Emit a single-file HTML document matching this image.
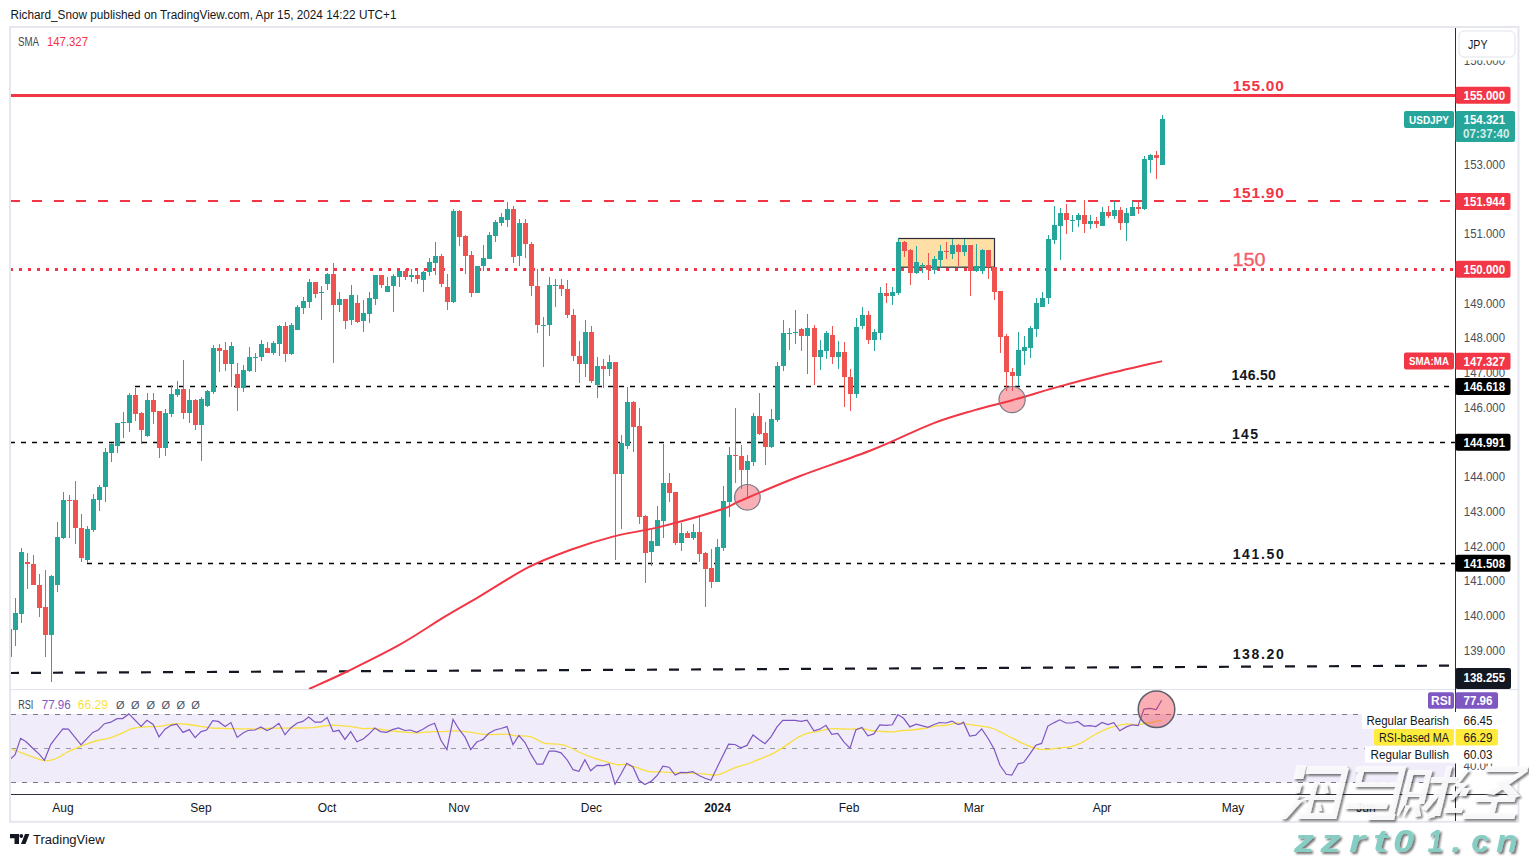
<!DOCTYPE html>
<html><head><meta charset="utf-8"><style>
html,body{margin:0;padding:0;background:#fff;width:1529px;height:857px;overflow:hidden;position:relative;font-family:"Liberation Sans",sans-serif}
</style></head><body>
<svg width="1529" height="857" viewBox="0 0 1529 857" style="position:absolute;left:0;top:0">
<defs><clipPath id="mainclip"><rect x="11" y="28" width="1444" height="661"/></clipPath><clipPath id="rsiclip"><rect x="11" y="690" width="1444" height="104"/></clipPath></defs>
<text x="10.5" y="19" font-size="12" fill="#131722" textLength="386" lengthAdjust="spacingAndGlyphs" font-family="Liberation Sans, sans-serif">Richard_Snow published on TradingView.com, Apr 15, 2024 14:22 UTC+1</text>
<rect x="10" y="27" width="1508.5" height="794.8" fill="#fff" stroke="#e6e7ee" stroke-width="2"/>
<g clip-path="url(#mainclip)">
<rect x="898.5" y="238.5" width="96" height="28.7" fill="#ffdfa6" stroke="#2a2e39" stroke-width="1.2"/>
<line x1="11" y1="95.5" x2="1455" y2="95.5" stroke="#f23645" stroke-width="3"/>
<line x1="10" y1="201" x2="1455" y2="201" stroke="#f23645" stroke-width="2" stroke-dasharray="10 12"/>
<line x1="10" y1="269.5" x2="1455" y2="269.5" stroke="#f23645" stroke-width="3" stroke-dasharray="3 6"/>
<line x1="135" y1="386.5" x2="1455" y2="386.5" stroke="#000" stroke-width="1.5" stroke-dasharray="5 6"/>
<line x1="10" y1="442.5" x2="1455" y2="442.5" stroke="#000" stroke-width="1.5" stroke-dasharray="5 6"/>
<line x1="87" y1="563.5" x2="1455" y2="563.5" stroke="#000" stroke-width="1.5" stroke-dasharray="5 6"/>
<line x1="9" y1="673" x2="1455" y2="665.6" stroke="#131722" stroke-width="2.2" stroke-dasharray="10 12"/>
<rect x="9" y="629" width="1" height="28" fill="#26a69a"/>
<rect x="7" y="629" width="5" height="28" fill="#26a69a"/>
<rect x="15" y="598" width="1" height="48" fill="#26a69a"/>
<rect x="13" y="613" width="5" height="17" fill="#26a69a"/>
<rect x="21" y="548" width="1" height="75" fill="#26a69a"/>
<rect x="19" y="552" width="5" height="62" fill="#26a69a"/>
<rect x="27" y="553" width="1" height="36" fill="#ef5350"/>
<rect x="25" y="562" width="5" height="2" fill="#ef5350"/>
<rect x="33" y="555" width="1" height="30" fill="#ef5350"/>
<rect x="31" y="564" width="5" height="21" fill="#ef5350"/>
<rect x="39" y="574" width="1" height="43" fill="#ef5350"/>
<rect x="37" y="585" width="5" height="23" fill="#ef5350"/>
<rect x="45" y="570" width="1" height="87" fill="#ef5350"/>
<rect x="43" y="607" width="5" height="28" fill="#ef5350"/>
<rect x="51" y="575" width="1" height="107" fill="#26a69a"/>
<rect x="49" y="576" width="5" height="59" fill="#26a69a"/>
<rect x="57" y="522" width="1" height="70" fill="#26a69a"/>
<rect x="55" y="537" width="5" height="48" fill="#26a69a"/>
<rect x="63" y="492" width="1" height="47" fill="#26a69a"/>
<rect x="61" y="500" width="5" height="38" fill="#26a69a"/>
<rect x="69" y="495" width="1" height="43" fill="#ef5350"/>
<rect x="67" y="500" width="5" height="1" fill="#ef5350"/>
<rect x="75" y="481" width="1" height="63" fill="#ef5350"/>
<rect x="73" y="500" width="5" height="28" fill="#ef5350"/>
<rect x="81" y="514" width="1" height="48" fill="#ef5350"/>
<rect x="79" y="528" width="5" height="30" fill="#ef5350"/>
<rect x="87" y="526" width="1" height="37" fill="#26a69a"/>
<rect x="85" y="529" width="5" height="31" fill="#26a69a"/>
<rect x="93" y="494" width="1" height="38" fill="#26a69a"/>
<rect x="91" y="499" width="5" height="31" fill="#26a69a"/>
<rect x="99" y="485" width="1" height="26" fill="#26a69a"/>
<rect x="97" y="487" width="5" height="13" fill="#26a69a"/>
<rect x="105" y="448" width="1" height="54" fill="#26a69a"/>
<rect x="103" y="452" width="5" height="35" fill="#26a69a"/>
<rect x="111" y="443" width="1" height="19" fill="#26a69a"/>
<rect x="109" y="444" width="5" height="9" fill="#26a69a"/>
<rect x="117" y="423" width="1" height="30" fill="#26a69a"/>
<rect x="115" y="423" width="5" height="23" fill="#26a69a"/>
<rect x="123" y="412" width="1" height="26" fill="#26a69a"/>
<rect x="121" y="422" width="5" height="1" fill="#26a69a"/>
<rect x="129" y="393" width="1" height="39" fill="#26a69a"/>
<rect x="127" y="395" width="5" height="28" fill="#26a69a"/>
<rect x="135" y="388" width="1" height="33" fill="#ef5350"/>
<rect x="133" y="395" width="5" height="19" fill="#ef5350"/>
<rect x="141" y="412" width="1" height="32" fill="#ef5350"/>
<rect x="139" y="413" width="5" height="17" fill="#ef5350"/>
<rect x="147" y="393" width="1" height="44" fill="#26a69a"/>
<rect x="145" y="400" width="5" height="36" fill="#26a69a"/>
<rect x="153" y="393" width="1" height="31" fill="#ef5350"/>
<rect x="151" y="400" width="5" height="12" fill="#ef5350"/>
<rect x="159" y="411" width="1" height="47" fill="#ef5350"/>
<rect x="157" y="411" width="5" height="37" fill="#ef5350"/>
<rect x="165" y="409" width="1" height="47" fill="#26a69a"/>
<rect x="163" y="413" width="5" height="35" fill="#26a69a"/>
<rect x="171" y="385" width="1" height="32" fill="#26a69a"/>
<rect x="169" y="394" width="5" height="20" fill="#26a69a"/>
<rect x="177" y="381" width="1" height="16" fill="#26a69a"/>
<rect x="175" y="389" width="5" height="6" fill="#26a69a"/>
<rect x="183" y="360" width="1" height="59" fill="#ef5350"/>
<rect x="181" y="389" width="5" height="24" fill="#ef5350"/>
<rect x="189" y="389" width="1" height="34" fill="#26a69a"/>
<rect x="187" y="400" width="5" height="13" fill="#26a69a"/>
<rect x="195" y="399" width="1" height="31" fill="#ef5350"/>
<rect x="193" y="400" width="5" height="25" fill="#ef5350"/>
<rect x="201" y="397" width="1" height="64" fill="#26a69a"/>
<rect x="199" y="399" width="5" height="26" fill="#26a69a"/>
<rect x="207" y="390" width="1" height="17" fill="#26a69a"/>
<rect x="205" y="391" width="5" height="15" fill="#26a69a"/>
<rect x="213" y="345" width="1" height="49" fill="#26a69a"/>
<rect x="211" y="348" width="5" height="44" fill="#26a69a"/>
<rect x="219" y="344" width="1" height="28" fill="#ef5350"/>
<rect x="217" y="348" width="5" height="3" fill="#ef5350"/>
<rect x="225" y="342" width="1" height="29" fill="#ef5350"/>
<rect x="223" y="350" width="5" height="14" fill="#ef5350"/>
<rect x="231" y="342" width="1" height="45" fill="#26a69a"/>
<rect x="229" y="346" width="5" height="18" fill="#26a69a"/>
<rect x="237" y="363" width="1" height="48" fill="#ef5350"/>
<rect x="235" y="374" width="5" height="14" fill="#ef5350"/>
<rect x="243" y="365" width="1" height="27" fill="#26a69a"/>
<rect x="241" y="370" width="5" height="18" fill="#26a69a"/>
<rect x="249" y="347" width="1" height="25" fill="#26a69a"/>
<rect x="247" y="357" width="5" height="14" fill="#26a69a"/>
<rect x="255" y="353" width="1" height="19" fill="#26a69a"/>
<rect x="253" y="357" width="5" height="1" fill="#26a69a"/>
<rect x="261" y="340" width="1" height="21" fill="#26a69a"/>
<rect x="259" y="344" width="5" height="13" fill="#26a69a"/>
<rect x="267" y="342" width="1" height="11" fill="#ef5350"/>
<rect x="265" y="348" width="5" height="5" fill="#ef5350"/>
<rect x="273" y="341" width="1" height="14" fill="#26a69a"/>
<rect x="271" y="343" width="5" height="10" fill="#26a69a"/>
<rect x="279" y="325" width="1" height="31" fill="#26a69a"/>
<rect x="277" y="326" width="5" height="18" fill="#26a69a"/>
<rect x="285" y="322" width="1" height="40" fill="#ef5350"/>
<rect x="283" y="326" width="5" height="28" fill="#ef5350"/>
<rect x="291" y="323" width="1" height="32" fill="#26a69a"/>
<rect x="289" y="325" width="5" height="29" fill="#26a69a"/>
<rect x="297" y="305" width="1" height="25" fill="#26a69a"/>
<rect x="295" y="307" width="5" height="23" fill="#26a69a"/>
<rect x="303" y="297" width="1" height="17" fill="#26a69a"/>
<rect x="301" y="301" width="5" height="7" fill="#26a69a"/>
<rect x="309" y="279" width="1" height="29" fill="#26a69a"/>
<rect x="307" y="282" width="5" height="20" fill="#26a69a"/>
<rect x="315" y="282" width="1" height="16" fill="#ef5350"/>
<rect x="313" y="282" width="5" height="12" fill="#ef5350"/>
<rect x="321" y="286" width="1" height="34" fill="#26a69a"/>
<rect x="319" y="292" width="5" height="1" fill="#26a69a"/>
<rect x="327" y="273" width="1" height="17" fill="#26a69a"/>
<rect x="325" y="274" width="5" height="10" fill="#26a69a"/>
<rect x="333" y="263" width="1" height="100" fill="#ef5350"/>
<rect x="331" y="274" width="5" height="31" fill="#ef5350"/>
<rect x="339" y="292" width="1" height="20" fill="#26a69a"/>
<rect x="337" y="299" width="5" height="6" fill="#26a69a"/>
<rect x="345" y="299" width="1" height="30" fill="#ef5350"/>
<rect x="343" y="299" width="5" height="22" fill="#ef5350"/>
<rect x="351" y="285" width="1" height="40" fill="#26a69a"/>
<rect x="349" y="295" width="5" height="25" fill="#26a69a"/>
<rect x="357" y="295" width="1" height="28" fill="#ef5350"/>
<rect x="355" y="303" width="5" height="19" fill="#ef5350"/>
<rect x="363" y="300" width="1" height="32" fill="#26a69a"/>
<rect x="361" y="313" width="5" height="8" fill="#26a69a"/>
<rect x="369" y="292" width="1" height="31" fill="#26a69a"/>
<rect x="367" y="298" width="5" height="16" fill="#26a69a"/>
<rect x="375" y="275" width="1" height="30" fill="#26a69a"/>
<rect x="373" y="275" width="5" height="24" fill="#26a69a"/>
<rect x="381" y="275" width="1" height="13" fill="#ef5350"/>
<rect x="379" y="275" width="5" height="10" fill="#ef5350"/>
<rect x="387" y="277" width="1" height="15" fill="#26a69a"/>
<rect x="385" y="286" width="5" height="6" fill="#26a69a"/>
<rect x="393" y="274" width="1" height="38" fill="#26a69a"/>
<rect x="391" y="276" width="5" height="10" fill="#26a69a"/>
<rect x="399" y="271" width="1" height="16" fill="#26a69a"/>
<rect x="397" y="271" width="5" height="6" fill="#26a69a"/>
<rect x="405" y="269" width="1" height="11" fill="#ef5350"/>
<rect x="403" y="271" width="5" height="6" fill="#ef5350"/>
<rect x="411" y="269" width="1" height="13" fill="#26a69a"/>
<rect x="409" y="275" width="5" height="2" fill="#26a69a"/>
<rect x="417" y="270" width="1" height="14" fill="#ef5350"/>
<rect x="415" y="275" width="5" height="4" fill="#ef5350"/>
<rect x="423" y="271" width="1" height="21" fill="#26a69a"/>
<rect x="421" y="272" width="5" height="8" fill="#26a69a"/>
<rect x="429" y="258" width="1" height="18" fill="#26a69a"/>
<rect x="427" y="262" width="5" height="10" fill="#26a69a"/>
<rect x="435" y="242" width="1" height="33" fill="#26a69a"/>
<rect x="433" y="256" width="5" height="7" fill="#26a69a"/>
<rect x="441" y="254" width="1" height="33" fill="#ef5350"/>
<rect x="439" y="256" width="5" height="28" fill="#ef5350"/>
<rect x="447" y="274" width="1" height="36" fill="#ef5350"/>
<rect x="445" y="287" width="5" height="15" fill="#ef5350"/>
<rect x="453" y="209" width="1" height="94" fill="#26a69a"/>
<rect x="451" y="211" width="5" height="91" fill="#26a69a"/>
<rect x="459" y="210" width="1" height="36" fill="#ef5350"/>
<rect x="457" y="211" width="5" height="26" fill="#ef5350"/>
<rect x="465" y="235" width="1" height="39" fill="#ef5350"/>
<rect x="463" y="236" width="5" height="20" fill="#ef5350"/>
<rect x="471" y="251" width="1" height="46" fill="#ef5350"/>
<rect x="469" y="255" width="5" height="38" fill="#ef5350"/>
<rect x="477" y="266" width="1" height="27" fill="#26a69a"/>
<rect x="475" y="266" width="5" height="27" fill="#26a69a"/>
<rect x="483" y="245" width="1" height="26" fill="#26a69a"/>
<rect x="481" y="258" width="5" height="8" fill="#26a69a"/>
<rect x="489" y="232" width="1" height="27" fill="#26a69a"/>
<rect x="487" y="235" width="5" height="24" fill="#26a69a"/>
<rect x="495" y="220" width="1" height="22" fill="#26a69a"/>
<rect x="493" y="222" width="5" height="14" fill="#26a69a"/>
<rect x="501" y="213" width="1" height="13" fill="#26a69a"/>
<rect x="499" y="217" width="5" height="6" fill="#26a69a"/>
<rect x="507" y="202" width="1" height="25" fill="#26a69a"/>
<rect x="505" y="209" width="5" height="11" fill="#26a69a"/>
<rect x="513" y="206" width="1" height="57" fill="#ef5350"/>
<rect x="511" y="209" width="5" height="48" fill="#ef5350"/>
<rect x="519" y="219" width="1" height="47" fill="#26a69a"/>
<rect x="517" y="223" width="5" height="33" fill="#26a69a"/>
<rect x="525" y="219" width="1" height="39" fill="#ef5350"/>
<rect x="523" y="223" width="5" height="21" fill="#ef5350"/>
<rect x="531" y="242" width="1" height="54" fill="#ef5350"/>
<rect x="529" y="244" width="5" height="42" fill="#ef5350"/>
<rect x="537" y="269" width="1" height="64" fill="#ef5350"/>
<rect x="535" y="286" width="5" height="39" fill="#ef5350"/>
<rect x="543" y="317" width="1" height="50" fill="#26a69a"/>
<rect x="541" y="325" width="5" height="1" fill="#26a69a"/>
<rect x="549" y="277" width="1" height="59" fill="#26a69a"/>
<rect x="547" y="285" width="5" height="40" fill="#26a69a"/>
<rect x="555" y="279" width="1" height="28" fill="#26a69a"/>
<rect x="553" y="285" width="5" height="1" fill="#26a69a"/>
<rect x="561" y="279" width="1" height="17" fill="#ef5350"/>
<rect x="559" y="285" width="5" height="4" fill="#ef5350"/>
<rect x="567" y="280" width="1" height="38" fill="#ef5350"/>
<rect x="565" y="289" width="5" height="26" fill="#ef5350"/>
<rect x="573" y="309" width="1" height="52" fill="#ef5350"/>
<rect x="571" y="315" width="5" height="41" fill="#ef5350"/>
<rect x="579" y="341" width="1" height="42" fill="#ef5350"/>
<rect x="577" y="356" width="5" height="8" fill="#ef5350"/>
<rect x="585" y="320" width="1" height="57" fill="#26a69a"/>
<rect x="583" y="332" width="5" height="32" fill="#26a69a"/>
<rect x="591" y="326" width="1" height="57" fill="#ef5350"/>
<rect x="589" y="332" width="5" height="49" fill="#ef5350"/>
<rect x="597" y="357" width="1" height="41" fill="#26a69a"/>
<rect x="595" y="366" width="5" height="19" fill="#26a69a"/>
<rect x="603" y="359" width="1" height="29" fill="#ef5350"/>
<rect x="601" y="366" width="5" height="3" fill="#ef5350"/>
<rect x="609" y="355" width="1" height="21" fill="#26a69a"/>
<rect x="607" y="362" width="5" height="7" fill="#26a69a"/>
<rect x="615" y="362" width="1" height="198" fill="#ef5350"/>
<rect x="613" y="362" width="5" height="112" fill="#ef5350"/>
<rect x="621" y="435" width="1" height="94" fill="#26a69a"/>
<rect x="619" y="443" width="5" height="31" fill="#26a69a"/>
<rect x="627" y="387" width="1" height="62" fill="#26a69a"/>
<rect x="625" y="402" width="5" height="44" fill="#26a69a"/>
<rect x="633" y="401" width="1" height="51" fill="#ef5350"/>
<rect x="631" y="402" width="5" height="25" fill="#ef5350"/>
<rect x="639" y="408" width="1" height="116" fill="#ef5350"/>
<rect x="637" y="426" width="5" height="91" fill="#ef5350"/>
<rect x="645" y="515" width="1" height="68" fill="#ef5350"/>
<rect x="643" y="516" width="5" height="37" fill="#ef5350"/>
<rect x="651" y="530" width="1" height="36" fill="#26a69a"/>
<rect x="649" y="541" width="5" height="11" fill="#26a69a"/>
<rect x="657" y="506" width="1" height="40" fill="#26a69a"/>
<rect x="655" y="520" width="5" height="26" fill="#26a69a"/>
<rect x="663" y="444" width="1" height="94" fill="#26a69a"/>
<rect x="661" y="483" width="5" height="38" fill="#26a69a"/>
<rect x="669" y="473" width="1" height="29" fill="#ef5350"/>
<rect x="667" y="483" width="5" height="10" fill="#ef5350"/>
<rect x="675" y="492" width="1" height="53" fill="#ef5350"/>
<rect x="673" y="492" width="5" height="51" fill="#ef5350"/>
<rect x="681" y="523" width="1" height="28" fill="#26a69a"/>
<rect x="679" y="533" width="5" height="10" fill="#26a69a"/>
<rect x="687" y="531" width="1" height="7" fill="#ef5350"/>
<rect x="685" y="533" width="5" height="5" fill="#ef5350"/>
<rect x="693" y="524" width="1" height="16" fill="#26a69a"/>
<rect x="691" y="532" width="5" height="6" fill="#26a69a"/>
<rect x="699" y="517" width="1" height="45" fill="#ef5350"/>
<rect x="697" y="532" width="5" height="22" fill="#ef5350"/>
<rect x="705" y="552" width="1" height="55" fill="#ef5350"/>
<rect x="703" y="553" width="5" height="16" fill="#ef5350"/>
<rect x="711" y="549" width="1" height="39" fill="#ef5350"/>
<rect x="709" y="568" width="5" height="14" fill="#ef5350"/>
<rect x="717" y="539" width="1" height="43" fill="#26a69a"/>
<rect x="715" y="547" width="5" height="35" fill="#26a69a"/>
<rect x="723" y="486" width="1" height="65" fill="#26a69a"/>
<rect x="721" y="501" width="5" height="47" fill="#26a69a"/>
<rect x="729" y="447" width="1" height="70" fill="#26a69a"/>
<rect x="727" y="455" width="5" height="47" fill="#26a69a"/>
<rect x="735" y="408" width="1" height="75" fill="#ef5350"/>
<rect x="733" y="455" width="5" height="1" fill="#ef5350"/>
<rect x="741" y="445" width="1" height="44" fill="#ef5350"/>
<rect x="739" y="456" width="5" height="14" fill="#ef5350"/>
<rect x="747" y="455" width="1" height="42" fill="#26a69a"/>
<rect x="745" y="461" width="5" height="9" fill="#26a69a"/>
<rect x="753" y="413" width="1" height="53" fill="#26a69a"/>
<rect x="751" y="416" width="5" height="46" fill="#26a69a"/>
<rect x="759" y="393" width="1" height="42" fill="#ef5350"/>
<rect x="757" y="416" width="5" height="18" fill="#ef5350"/>
<rect x="765" y="422" width="1" height="43" fill="#ef5350"/>
<rect x="763" y="433" width="5" height="14" fill="#ef5350"/>
<rect x="771" y="409" width="1" height="39" fill="#26a69a"/>
<rect x="769" y="419" width="5" height="28" fill="#26a69a"/>
<rect x="777" y="362" width="1" height="60" fill="#26a69a"/>
<rect x="775" y="366" width="5" height="54" fill="#26a69a"/>
<rect x="783" y="320" width="1" height="51" fill="#26a69a"/>
<rect x="781" y="333" width="5" height="33" fill="#26a69a"/>
<rect x="789" y="328" width="1" height="22" fill="#26a69a"/>
<rect x="787" y="333" width="5" height="1" fill="#26a69a"/>
<rect x="795" y="310" width="1" height="34" fill="#26a69a"/>
<rect x="793" y="332" width="5" height="1" fill="#26a69a"/>
<rect x="801" y="328" width="1" height="23" fill="#ef5350"/>
<rect x="799" y="329" width="5" height="7" fill="#ef5350"/>
<rect x="807" y="314" width="1" height="60" fill="#26a69a"/>
<rect x="805" y="328" width="5" height="8" fill="#26a69a"/>
<rect x="814" y="325" width="1" height="60" fill="#ef5350"/>
<rect x="812" y="328" width="5" height="29" fill="#ef5350"/>
<rect x="820" y="340" width="1" height="30" fill="#26a69a"/>
<rect x="818" y="350" width="5" height="7" fill="#26a69a"/>
<rect x="826" y="331" width="1" height="28" fill="#26a69a"/>
<rect x="824" y="333" width="5" height="18" fill="#26a69a"/>
<rect x="832" y="326" width="1" height="38" fill="#ef5350"/>
<rect x="830" y="335" width="5" height="22" fill="#ef5350"/>
<rect x="838" y="341" width="1" height="28" fill="#26a69a"/>
<rect x="836" y="352" width="5" height="5" fill="#26a69a"/>
<rect x="844" y="342" width="1" height="65" fill="#ef5350"/>
<rect x="842" y="352" width="5" height="25" fill="#ef5350"/>
<rect x="850" y="369" width="1" height="42" fill="#ef5350"/>
<rect x="848" y="377" width="5" height="17" fill="#ef5350"/>
<rect x="856" y="318" width="1" height="80" fill="#26a69a"/>
<rect x="854" y="327" width="5" height="67" fill="#26a69a"/>
<rect x="862" y="307" width="1" height="22" fill="#26a69a"/>
<rect x="860" y="315" width="5" height="11" fill="#26a69a"/>
<rect x="868" y="311" width="1" height="33" fill="#ef5350"/>
<rect x="866" y="315" width="5" height="25" fill="#ef5350"/>
<rect x="874" y="329" width="1" height="22" fill="#26a69a"/>
<rect x="872" y="332" width="5" height="8" fill="#26a69a"/>
<rect x="880" y="287" width="1" height="53" fill="#26a69a"/>
<rect x="878" y="293" width="5" height="40" fill="#26a69a"/>
<rect x="886" y="283" width="1" height="20" fill="#ef5350"/>
<rect x="884" y="293" width="5" height="3" fill="#ef5350"/>
<rect x="892" y="287" width="1" height="18" fill="#26a69a"/>
<rect x="890" y="292" width="5" height="4" fill="#26a69a"/>
<rect x="898" y="238" width="1" height="57" fill="#26a69a"/>
<rect x="896" y="242" width="5" height="51" fill="#26a69a"/>
<rect x="904" y="241" width="1" height="16" fill="#ef5350"/>
<rect x="902" y="242" width="5" height="9" fill="#ef5350"/>
<rect x="910" y="249" width="1" height="36" fill="#ef5350"/>
<rect x="908" y="250" width="5" height="23" fill="#ef5350"/>
<rect x="916" y="246" width="1" height="28" fill="#26a69a"/>
<rect x="914" y="262" width="5" height="11" fill="#26a69a"/>
<rect x="922" y="263" width="1" height="10" fill="#26a69a"/>
<rect x="920" y="265" width="5" height="1" fill="#26a69a"/>
<rect x="928" y="253" width="1" height="27" fill="#ef5350"/>
<rect x="926" y="265" width="5" height="5" fill="#ef5350"/>
<rect x="934" y="256" width="1" height="18" fill="#26a69a"/>
<rect x="932" y="259" width="5" height="11" fill="#26a69a"/>
<rect x="940" y="245" width="1" height="23" fill="#26a69a"/>
<rect x="938" y="251" width="5" height="9" fill="#26a69a"/>
<rect x="946" y="242" width="1" height="17" fill="#ef5350"/>
<rect x="944" y="251" width="5" height="1" fill="#ef5350"/>
<rect x="952" y="239" width="1" height="20" fill="#26a69a"/>
<rect x="950" y="245" width="5" height="9" fill="#26a69a"/>
<rect x="958" y="244" width="1" height="22" fill="#ef5350"/>
<rect x="956" y="245" width="5" height="7" fill="#ef5350"/>
<rect x="964" y="239" width="1" height="17" fill="#26a69a"/>
<rect x="962" y="245" width="5" height="7" fill="#26a69a"/>
<rect x="970" y="245" width="1" height="51" fill="#ef5350"/>
<rect x="968" y="245" width="5" height="26" fill="#ef5350"/>
<rect x="976" y="244" width="1" height="28" fill="#26a69a"/>
<rect x="974" y="266" width="5" height="5" fill="#26a69a"/>
<rect x="982" y="249" width="1" height="25" fill="#26a69a"/>
<rect x="980" y="250" width="5" height="21" fill="#26a69a"/>
<rect x="988" y="250" width="1" height="29" fill="#ef5350"/>
<rect x="986" y="250" width="5" height="17" fill="#ef5350"/>
<rect x="994" y="267" width="1" height="33" fill="#ef5350"/>
<rect x="992" y="267" width="5" height="25" fill="#ef5350"/>
<rect x="1000" y="291" width="1" height="62" fill="#ef5350"/>
<rect x="998" y="291" width="5" height="46" fill="#ef5350"/>
<rect x="1006" y="334" width="1" height="57" fill="#ef5350"/>
<rect x="1004" y="336" width="5" height="36" fill="#ef5350"/>
<rect x="1012" y="368" width="1" height="23" fill="#ef5350"/>
<rect x="1010" y="372" width="5" height="4" fill="#ef5350"/>
<rect x="1018" y="332" width="1" height="54" fill="#26a69a"/>
<rect x="1016" y="350" width="5" height="26" fill="#26a69a"/>
<rect x="1024" y="336" width="1" height="29" fill="#26a69a"/>
<rect x="1022" y="347" width="5" height="4" fill="#26a69a"/>
<rect x="1030" y="326" width="1" height="32" fill="#26a69a"/>
<rect x="1028" y="328" width="5" height="20" fill="#26a69a"/>
<rect x="1036" y="298" width="1" height="39" fill="#26a69a"/>
<rect x="1034" y="303" width="5" height="26" fill="#26a69a"/>
<rect x="1042" y="292" width="1" height="15" fill="#26a69a"/>
<rect x="1040" y="298" width="5" height="9" fill="#26a69a"/>
<rect x="1048" y="235" width="1" height="69" fill="#26a69a"/>
<rect x="1046" y="239" width="5" height="59" fill="#26a69a"/>
<rect x="1054" y="206" width="1" height="38" fill="#26a69a"/>
<rect x="1052" y="225" width="5" height="15" fill="#26a69a"/>
<rect x="1060" y="208" width="1" height="52" fill="#26a69a"/>
<rect x="1058" y="213" width="5" height="13" fill="#26a69a"/>
<rect x="1066" y="204" width="1" height="30" fill="#ef5350"/>
<rect x="1064" y="213" width="5" height="7" fill="#ef5350"/>
<rect x="1072" y="215" width="1" height="17" fill="#26a69a"/>
<rect x="1070" y="220" width="5" height="1" fill="#26a69a"/>
<rect x="1078" y="213" width="1" height="14" fill="#26a69a"/>
<rect x="1076" y="215" width="5" height="5" fill="#26a69a"/>
<rect x="1084" y="200" width="1" height="33" fill="#ef5350"/>
<rect x="1082" y="215" width="5" height="9" fill="#ef5350"/>
<rect x="1090" y="215" width="1" height="14" fill="#26a69a"/>
<rect x="1088" y="221" width="5" height="3" fill="#26a69a"/>
<rect x="1096" y="217" width="1" height="11" fill="#ef5350"/>
<rect x="1094" y="221" width="5" height="3" fill="#ef5350"/>
<rect x="1102" y="207" width="1" height="19" fill="#26a69a"/>
<rect x="1100" y="212" width="5" height="14" fill="#26a69a"/>
<rect x="1108" y="206" width="1" height="12" fill="#ef5350"/>
<rect x="1106" y="212" width="5" height="4" fill="#ef5350"/>
<rect x="1114" y="201" width="1" height="18" fill="#26a69a"/>
<rect x="1112" y="210" width="5" height="6" fill="#26a69a"/>
<rect x="1120" y="207" width="1" height="23" fill="#ef5350"/>
<rect x="1118" y="210" width="5" height="13" fill="#ef5350"/>
<rect x="1126" y="208" width="1" height="33" fill="#26a69a"/>
<rect x="1124" y="213" width="5" height="10" fill="#26a69a"/>
<rect x="1132" y="201" width="1" height="15" fill="#26a69a"/>
<rect x="1130" y="207" width="5" height="9" fill="#26a69a"/>
<rect x="1138" y="202" width="1" height="12" fill="#ef5350"/>
<rect x="1136" y="207" width="5" height="2" fill="#ef5350"/>
<rect x="1144" y="156" width="1" height="54" fill="#26a69a"/>
<rect x="1142" y="159" width="5" height="50" fill="#26a69a"/>
<rect x="1150" y="154" width="1" height="19" fill="#26a69a"/>
<rect x="1148" y="155" width="5" height="5" fill="#26a69a"/>
<rect x="1156" y="151" width="1" height="28" fill="#ef5350"/>
<rect x="1154" y="155" width="5" height="3" fill="#ef5350"/>
<rect x="1162" y="115" width="1" height="50" fill="#26a69a"/>
<rect x="1160" y="119" width="5" height="46" fill="#26a69a"/>
<path fill="none" stroke="#f23645" stroke-width="2" d="M309.0,689.0 C315.5,686.0 333.1,678.4 348.1,671.0 C363.2,663.6 383.2,653.9 399.3,644.9 C415.4,635.9 430.9,625.1 444.4,616.9 C457.9,608.7 466.5,604.1 480.5,595.8 C494.5,587.5 513.6,574.9 528.6,567.2 C543.6,559.5 556.8,554.9 570.8,549.8 C584.8,544.7 597.9,540.5 612.9,536.6 C627.9,532.7 643.0,531.1 661.0,526.6 C679.0,522.1 708.0,513.8 721.2,509.5 C734.4,505.2 726.8,506.6 740.0,501.0 C753.2,495.4 778.1,484.5 800.2,476.0 C822.3,467.5 850.4,458.5 872.4,449.8 C894.4,441.1 915.5,430.2 932.5,423.6 C949.5,417.0 961.4,414.0 974.7,410.1 C988.0,406.2 998.3,404.1 1012.3,400.2 C1026.3,396.3 1044.1,390.7 1058.9,386.6 C1073.7,382.5 1083.8,379.8 1101.0,375.5 C1118.2,371.2 1151.9,363.5 1162.1,361.1"/>
<circle cx="747.4" cy="497.3" r="12.8" fill="rgba(242,54,69,0.4)" stroke="#787b86" stroke-width="1.2"/>
<circle cx="1012.1" cy="399.6" r="13.1" fill="rgba(242,54,69,0.4)" stroke="#787b86" stroke-width="1.2"/>
<text x="1232.7" y="91" font-size="15.4" font-weight="bold" fill="#f23645" textLength="51" lengthAdjust="spacing" font-family="Liberation Sans, sans-serif">155.00</text>
<text x="1232.7" y="197.8" font-size="15.4" font-weight="bold" fill="#f23645" textLength="51" lengthAdjust="spacing" font-family="Liberation Sans, sans-serif">151.90</text>
<text x="1232.5" y="266" font-size="19" fill="#f45c68" stroke="#f45c68" stroke-width="0.35" textLength="33" lengthAdjust="spacingAndGlyphs" font-family="Liberation Sans, sans-serif">150</text>
<text x="1231.5" y="380.3" font-size="14" font-weight="bold" fill="#131722" textLength="44.3" lengthAdjust="spacing" font-family="Liberation Sans, sans-serif">146.50</text>
<text x="1232" y="439" font-size="14" font-weight="bold" fill="#131722" font-family="Liberation Sans, sans-serif" textLength="26" lengthAdjust="spacing">145</text>
<text x="1232.7" y="559" font-size="14" font-weight="bold" fill="#131722" textLength="51" lengthAdjust="spacing" font-family="Liberation Sans, sans-serif">141.50</text>
<text x="1232.7" y="659" font-size="14" font-weight="bold" fill="#131722" textLength="51" lengthAdjust="spacing" font-family="Liberation Sans, sans-serif">138.20</text>
<text x="18" y="46" font-size="12" fill="#434651" textLength="21" lengthAdjust="spacingAndGlyphs" font-family="Liberation Sans, sans-serif">SMA</text>
<text x="47" y="46" font-size="12" fill="#f23645" textLength="41" lengthAdjust="spacingAndGlyphs" font-family="Liberation Sans, sans-serif">147.327</text>
</g>
<line x1="11" y1="689.5" x2="1518" y2="689.5" stroke="#e0e3eb" stroke-width="1"/>
<g clip-path="url(#rsiclip)">
<rect x="11" y="714" width="1444" height="68.5" fill="#f0ecf9"/>
<line x1="11" y1="714.5" x2="1455" y2="714.5" stroke="#787b86" stroke-width="1" stroke-dasharray="5 6"/>
<line x1="11" y1="748.5" x2="1455" y2="748.5" stroke="#9598a1" stroke-width="1" stroke-dasharray="5 6"/>
<line x1="11" y1="782.5" x2="1455" y2="782.5" stroke="#787b86" stroke-width="1" stroke-dasharray="5 6"/>
<path fill="none" stroke="#f9df3f" stroke-width="1.3" d="M10.4,748.4 C12.6,749.3 19.4,751.9 23.7,753.6 C28.0,755.2 32.8,757.1 36.3,758.3 C39.7,759.5 41.8,760.4 44.4,760.6 C47.0,760.9 49.6,760.4 51.9,759.8 C54.3,759.3 55.6,758.8 58.2,757.5 C60.8,756.2 64.5,753.6 67.6,752.0 C70.8,750.4 73.9,749.1 77.1,747.8 C80.2,746.5 83.1,745.4 86.5,744.2 C89.9,742.9 93.5,741.6 97.5,740.5 C101.4,739.5 106.1,739.0 110.0,737.9 C113.9,736.7 117.6,735.1 121.0,733.6 C124.4,732.2 127.6,730.3 130.4,729.2 C133.3,728.2 135.1,727.8 138.3,727.4 C141.4,726.9 145.9,726.7 149.3,726.6 C152.7,726.4 155.5,726.7 158.7,726.4 C161.8,726.1 165.2,725.3 168.1,724.8 C171.0,724.4 172.5,723.8 175.9,723.7 C179.3,723.7 184.3,724.1 188.5,724.5 C192.7,725.0 197.1,725.8 201.1,726.4 C205.0,727.0 207.6,727.6 212.0,728.0 C216.5,728.3 223.6,728.3 227.7,728.5 C231.9,728.6 233.8,728.9 237.2,728.9 C240.5,729.0 244.9,728.7 248.0,728.8 C251.1,728.8 251.8,729.3 255.7,729.2 C259.6,729.1 266.2,728.3 271.4,728.1 C276.6,728.0 281.9,728.2 287.1,728.1 C292.3,728.1 298.1,728.1 302.8,728.0 C307.5,727.9 311.2,727.8 315.3,727.4 C319.5,726.9 324.2,725.8 327.9,725.5 C331.6,725.1 333.7,725.2 337.3,725.3 C341.0,725.5 345.7,725.9 349.9,726.4 C354.1,726.9 358.5,728.1 362.4,728.5 C366.4,728.8 369.0,728.1 373.4,728.5 C377.9,728.8 383.9,729.9 389.1,730.5 C394.3,731.1 400.1,731.7 404.8,732.1 C409.5,732.5 412.7,732.9 417.4,732.9 C422.1,732.8 428.6,731.8 433.1,731.6 C437.5,731.4 440.4,731.7 444.0,731.6 C447.7,731.5 451.4,730.8 455.0,730.8 C458.7,730.8 461.9,731.1 466.0,731.6 C470.2,732.1 476.4,733.4 480.0,733.9 C483.6,734.5 485.2,734.7 487.8,734.7 C490.5,734.8 492.3,734.5 495.7,734.4 C499.1,734.3 504.9,734.0 508.3,734.3 C511.7,734.5 512.4,735.4 516.1,735.8 C519.8,736.2 525.8,735.5 530.2,736.6 C534.7,737.7 539.6,741.4 542.8,742.6 C545.9,743.8 546.4,743.4 549.1,743.7 C551.7,743.9 555.3,743.7 558.5,744.2 C561.6,744.6 564.5,745.2 567.9,746.5 C571.3,747.8 575.2,750.3 578.9,752.0 C582.5,753.7 585.9,755.3 589.9,756.7 C593.8,758.1 598.0,759.3 602.4,760.6 C606.9,761.9 612.6,763.9 616.6,764.6 C620.5,765.2 622.6,764.0 626.0,764.6 C629.4,765.1 633.0,766.5 637.0,767.7 C640.9,768.9 645.3,770.9 649.5,771.6 C653.7,772.3 657.9,771.7 662.1,771.9 C666.3,772.1 670.4,772.7 674.6,772.9 C678.8,773.1 683.0,773.1 687.2,773.2 C691.4,773.3 696.3,773.5 699.7,773.7 C703.1,773.8 705.0,774.0 707.6,774.3 C710.2,774.5 713.4,775.2 715.4,775.2 C717.5,775.2 717.9,775.0 720.0,774.3 C722.1,773.6 725.2,772.0 727.8,770.8 C730.5,769.7 733.1,768.3 735.7,767.4 C738.3,766.4 740.9,765.8 743.5,765.0 C746.2,764.2 748.5,763.6 751.4,762.5 C754.3,761.4 757.7,759.9 760.8,758.6 C763.9,757.3 767.1,756.3 770.2,754.8 C773.4,753.3 776.5,751.6 779.6,749.6 C782.8,747.7 785.9,745.5 789.1,743.4 C792.2,741.3 795.3,738.8 798.5,737.1 C801.6,735.4 804.8,734.1 807.9,733.2 C811.0,732.2 813.7,732.3 817.3,731.6 C821.0,730.9 826.2,729.4 829.9,728.9 C833.5,728.5 835.9,728.7 839.3,728.8 C842.7,728.8 846.6,729.3 850.3,729.2 C853.9,729.2 857.9,728.2 861.3,728.5 C864.7,728.7 867.5,730.0 870.7,730.5 C873.8,731.0 876.4,731.0 880.1,731.3 C883.8,731.5 889.0,732.0 892.7,731.9 C896.3,731.8 898.9,730.8 902.1,730.5 C905.2,730.2 907.8,730.4 911.5,730.0 C915.2,729.7 919.9,729.2 924.0,728.5 C928.2,727.7 932.9,726.3 936.6,725.8 C940.3,725.3 942.9,725.7 946.0,725.3 C949.2,724.9 953.1,723.7 955.4,723.4 C957.8,723.1 956.6,723.1 960.0,723.4 C963.4,723.7 970.2,724.5 975.7,725.3 C981.2,726.2 987.7,726.8 993.0,728.5 C998.2,730.2 1002.1,733.0 1007.1,735.5 C1012.1,738.0 1018.1,741.2 1022.8,743.4 C1027.5,745.5 1031.4,747.3 1035.3,748.4 C1039.3,749.4 1042.7,749.7 1046.3,749.6 C1050.0,749.6 1053.4,748.5 1057.3,748.1 C1061.2,747.6 1065.9,747.7 1069.9,746.8 C1073.8,746.0 1076.9,744.9 1080.9,743.1 C1084.8,741.2 1089.2,737.8 1093.4,735.5 C1097.6,733.2 1102.0,730.9 1106.0,729.2 C1109.9,727.6 1113.6,726.6 1117.0,725.8 C1120.4,725.0 1123.0,724.4 1126.4,724.2 C1129.8,724.0 1133.7,724.7 1137.4,724.5 C1141.0,724.3 1144.3,723.7 1148.4,723.0 C1152.4,722.2 1159.5,720.6 1161.7,720.1"/>
<polyline fill="none" stroke="#7e57c2" stroke-width="1.2" points="10.4,759.1 15.1,754.7 20.6,738.3 26.1,741.8 32.3,747.8 39.4,754.4 44.4,760.3 50.7,744.6 55.1,738.7 62.9,728.9 68.4,729.2 81.0,744.9 92.8,732.4 98.3,730.0 104.5,723.7 110.8,722.2 117.1,718.7 122.6,718.6 128.9,713.9 141.1,726.4 146.9,720.3 153.2,724.5 159.0,736.8 165.0,729.2 171.2,725.3 176.7,724.2 183.0,732.4 189.3,729.6 195.1,737.6 201.1,731.6 206.6,730.0 212.8,720.6 218.3,721.4 225.1,726.4 230.9,722.6 237.2,737.4 243.4,732.7 248.0,730.5 254.9,730.0 260.9,726.9 267.0,730.5 273.0,727.7 278.9,723.3 285.0,734.7 291.0,727.7 297.3,723.0 302.8,721.4 308.7,717.0 315.0,722.2 321.1,722.2 327.1,717.5 333.1,731.6 338.9,730.3 344.9,739.4 350.7,731.6 356.9,741.8 363.2,739.0 368.7,734.3 374.7,728.0 380.5,731.6 386.8,732.4 392.3,729.6 398.5,728.0 404.8,730.5 410.3,730.0 416.6,732.4 422.9,729.2 428.4,725.8 434.6,723.3 440.9,740.2 446.9,749.6 453.0,719.4 459.0,729.2 465.2,737.4 470.7,749.6 477.0,741.8 480.0,740.7 483.1,739.4 488.6,733.6 494.9,730.0 500.9,728.5 507.0,726.6 513.0,744.6 518.9,735.5 525.0,742.6 531.0,754.4 537.0,764.2 542.8,764.1 549.1,751.2 555.3,751.2 561.1,752.8 567.1,759.8 573.1,769.7 578.9,771.3 584.9,759.8 590.7,770.8 596.9,765.3 603.2,765.7 609.2,764.1 615.0,784.2 621.0,774.0 626.8,763.3 633.0,766.9 639.0,780.3 644.8,784.6 651.1,781.4 657.4,775.2 662.9,766.1 669.1,767.2 675.1,775.1 680.9,772.4 686.9,772.7 692.7,771.6 699.0,775.5 705.2,778.2 711.0,780.3 720.0,761.4 728.6,744.2 734.9,744.5 740.9,747.8 747.0,745.4 753.0,735.0 758.9,739.4 765.0,743.7 771.0,736.8 777.0,726.9 782.8,720.3 789.1,720.3 795.0,720.3 801.1,721.4 807.1,720.1 813.9,730.8 819.7,729.2 825.9,725.3 831.8,734.3 837.7,733.5 844.0,742.1 850.0,748.1 855.8,730.0 862.0,727.4 867.9,735.8 873.8,733.9 879.8,724.8 886.4,725.3 892.3,724.8 897.8,714.6 903.6,718.3 909.9,726.9 916.2,724.2 922.5,725.8 928.0,727.4 933.5,724.8 939.7,722.5 946.0,723.0 952.0,721.1 957.8,724.5 960.0,724.2 963.5,722.2 969.7,736.0 975.7,735.2 981.7,728.9 988.3,738.7 994.2,749.3 1000.0,765.3 1006.3,774.3 1011.8,775.2 1018.1,763.8 1023.6,762.5 1029.1,755.1 1035.8,745.3 1041.6,743.4 1047.9,726.1 1054.2,722.6 1059.7,719.8 1065.9,723.0 1071.8,723.0 1077.7,721.4 1084.0,726.1 1090.0,725.6 1095.8,726.6 1102.0,722.5 1107.9,724.5 1113.8,722.6 1119.8,730.8 1126.4,726.9 1132.3,724.8 1138.2,725.6 1144.0,709.1 1149.9,708.4 1156.2,709.6 1161.7,700.2"/>
<circle cx="1156.5" cy="709.3" r="18.3" fill="rgba(242,54,69,0.4)" stroke="#5d606b" stroke-width="1.5"/>
<text x="18.2" y="709" font-size="12" fill="#434651" textLength="15.2" lengthAdjust="spacingAndGlyphs" font-family="Liberation Sans, sans-serif">RSI</text>
<text x="41.7" y="709" font-size="12" fill="#7e57c2" textLength="29" lengthAdjust="spacingAndGlyphs" font-family="Liberation Sans, sans-serif">77.96</text>
<text x="77.8" y="709" font-size="12" fill="#f9df3f" textLength="30" lengthAdjust="spacingAndGlyphs" font-family="Liberation Sans, sans-serif">66.29</text>
<text x="115.9" y="709" font-size="11" fill="#50535e" font-family="Liberation Sans, sans-serif">Ø</text>
<text x="130.9" y="709" font-size="11" fill="#50535e" font-family="Liberation Sans, sans-serif">Ø</text>
<text x="146.5" y="709" font-size="11" fill="#50535e" font-family="Liberation Sans, sans-serif">Ø</text>
<text x="161.4" y="709" font-size="11" fill="#50535e" font-family="Liberation Sans, sans-serif">Ø</text>
<text x="176.4" y="709" font-size="11" fill="#50535e" font-family="Liberation Sans, sans-serif">Ø</text>
<text x="191.3" y="709" font-size="11" fill="#50535e" font-family="Liberation Sans, sans-serif">Ø</text>
</g>
<line x1="11" y1="794.5" x2="1518" y2="794.5" stroke="#2a2e39" stroke-width="1"/>
<text x="63" y="812" font-size="12" fill="#131722" text-anchor="middle" font-family="Liberation Sans, sans-serif">Aug</text>
<text x="201" y="812" font-size="12" fill="#131722" text-anchor="middle" font-family="Liberation Sans, sans-serif">Sep</text>
<text x="327" y="812" font-size="12" fill="#131722" text-anchor="middle" font-family="Liberation Sans, sans-serif">Oct</text>
<text x="459" y="812" font-size="12" fill="#131722" text-anchor="middle" font-family="Liberation Sans, sans-serif">Nov</text>
<text x="591.4" y="812" font-size="12" fill="#131722" text-anchor="middle" font-family="Liberation Sans, sans-serif">Dec</text>
<text x="717.5" y="812" font-size="12" fill="#131722" text-anchor="middle" font-family="Liberation Sans, sans-serif" font-weight="bold">2024</text>
<text x="849" y="812" font-size="12" fill="#131722" text-anchor="middle" font-family="Liberation Sans, sans-serif">Feb</text>
<text x="974" y="812" font-size="12" fill="#131722" text-anchor="middle" font-family="Liberation Sans, sans-serif">Mar</text>
<text x="1102" y="812" font-size="12" fill="#131722" text-anchor="middle" font-family="Liberation Sans, sans-serif">Apr</text>
<text x="1233" y="812" font-size="12" fill="#131722" text-anchor="middle" font-family="Liberation Sans, sans-serif">May</text>
<text x="1366" y="812" font-size="12" fill="#131722" text-anchor="middle" font-family="Liberation Sans, sans-serif">Jun</text>
<line x1="1455.5" y1="28" x2="1455.5" y2="821" stroke="#2a2e39" stroke-width="1"/>
<text x="1463.8" y="64.8" font-size="12" fill="#4a4d57" textLength="41.2" lengthAdjust="spacingAndGlyphs" font-family="Liberation Sans, sans-serif">156.000</text>
<text x="1463.8" y="168.9" font-size="12" fill="#4a4d57" textLength="41.2" lengthAdjust="spacingAndGlyphs" font-family="Liberation Sans, sans-serif">153.000</text>
<text x="1463.8" y="238.3" font-size="12" fill="#4a4d57" textLength="41.2" lengthAdjust="spacingAndGlyphs" font-family="Liberation Sans, sans-serif">151.000</text>
<text x="1463.8" y="307.7" font-size="12" fill="#4a4d57" textLength="41.2" lengthAdjust="spacingAndGlyphs" font-family="Liberation Sans, sans-serif">149.000</text>
<text x="1463.8" y="342.4" font-size="12" fill="#4a4d57" textLength="41.2" lengthAdjust="spacingAndGlyphs" font-family="Liberation Sans, sans-serif">148.000</text>
<text x="1463.8" y="377.1" font-size="12" fill="#4a4d57" textLength="41.2" lengthAdjust="spacingAndGlyphs" font-family="Liberation Sans, sans-serif">147.000</text>
<text x="1463.8" y="411.8" font-size="12" fill="#4a4d57" textLength="41.2" lengthAdjust="spacingAndGlyphs" font-family="Liberation Sans, sans-serif">146.000</text>
<text x="1463.8" y="481.2" font-size="12" fill="#4a4d57" textLength="41.2" lengthAdjust="spacingAndGlyphs" font-family="Liberation Sans, sans-serif">144.000</text>
<text x="1463.8" y="515.9" font-size="12" fill="#4a4d57" textLength="41.2" lengthAdjust="spacingAndGlyphs" font-family="Liberation Sans, sans-serif">143.000</text>
<text x="1463.8" y="550.6" font-size="12" fill="#4a4d57" textLength="41.2" lengthAdjust="spacingAndGlyphs" font-family="Liberation Sans, sans-serif">142.000</text>
<text x="1463.8" y="585.3" font-size="12" fill="#4a4d57" textLength="41.2" lengthAdjust="spacingAndGlyphs" font-family="Liberation Sans, sans-serif">141.000</text>
<text x="1463.8" y="620.0" font-size="12" fill="#4a4d57" textLength="41.2" lengthAdjust="spacingAndGlyphs" font-family="Liberation Sans, sans-serif">140.000</text>
<text x="1463.8" y="654.7" font-size="12" fill="#4a4d57" textLength="41.2" lengthAdjust="spacingAndGlyphs" font-family="Liberation Sans, sans-serif">139.000</text>
<text x="1463.5" y="769.5" font-size="12" fill="#4a4d57" textLength="29" lengthAdjust="spacingAndGlyphs" font-family="Liberation Sans, sans-serif">40.00</text>
<rect x="1456" y="28" width="61" height="32.5" fill="#fff"/>
<rect x="1459" y="31" width="56" height="26" rx="5" fill="#fff" stroke="#e0e3eb" stroke-width="1"/>
<text x="1468" y="49" font-size="13" fill="#131722" textLength="19.5" lengthAdjust="spacingAndGlyphs" font-family="Liberation Sans, sans-serif">JPY</text>
<rect x="1455.5" y="86.8" width="55" height="17" rx="2" fill="#f23645"/>
<text x="1463.6" y="99.8" font-size="12" fill="#fff" textLength="41.5" lengthAdjust="spacingAndGlyphs" font-family="Liberation Sans, sans-serif" font-weight="bold">155.000</text>
<rect x="1404" y="111" width="50" height="17" rx="2" fill="#26a69a"/>
<text x="1409" y="124" font-size="11.5" font-weight="bold" fill="#fff" textLength="40" lengthAdjust="spacingAndGlyphs" font-family="Liberation Sans, sans-serif">USDJPY</text>
<rect x="1455.5" y="111" width="59.5" height="31" rx="2" fill="#26a69a"/>
<text x="1463.6" y="123.5" font-size="12" font-weight="bold" fill="#fff" textLength="41.5" lengthAdjust="spacingAndGlyphs" font-family="Liberation Sans, sans-serif">154.321</text>
<text x="1463" y="137.5" font-size="12" fill="#d4ede9" font-weight="bold" textLength="46.5" lengthAdjust="spacingAndGlyphs" font-family="Liberation Sans, sans-serif">07:37:40</text>
<rect x="1455.5" y="193.0" width="55" height="17" rx="2" fill="#f23645"/>
<text x="1463.6" y="206.0" font-size="12" fill="#fff" textLength="41.5" lengthAdjust="spacingAndGlyphs" font-family="Liberation Sans, sans-serif" font-weight="bold">151.944</text>
<rect x="1455.5" y="260.8" width="55" height="17" rx="2" fill="#f23645"/>
<text x="1463.6" y="273.8" font-size="12" fill="#fff" textLength="41.5" lengthAdjust="spacingAndGlyphs" font-family="Liberation Sans, sans-serif" font-weight="bold">150.000</text>
<rect x="1404" y="352.5" width="50" height="17" rx="2" fill="#f23645"/>
<text x="1409" y="365" font-size="11.5" font-weight="bold" fill="#fff" textLength="40" lengthAdjust="spacingAndGlyphs" font-family="Liberation Sans, sans-serif">SMA:MA</text>
<rect x="1455.5" y="352.7" width="55" height="17" rx="2" fill="#f23645"/>
<text x="1463.6" y="365.7" font-size="12" fill="#fff" textLength="41.5" lengthAdjust="spacingAndGlyphs" font-family="Liberation Sans, sans-serif" font-weight="bold">147.327</text>
<rect x="1455.5" y="378.0" width="55" height="17" rx="2" fill="#000000"/>
<text x="1463.6" y="391.0" font-size="12" fill="#fff" textLength="41.5" lengthAdjust="spacingAndGlyphs" font-family="Liberation Sans, sans-serif" font-weight="bold">146.618</text>
<rect x="1455.5" y="433.7" width="55" height="17" rx="2" fill="#000000"/>
<text x="1463.6" y="446.7" font-size="12" fill="#fff" textLength="41.5" lengthAdjust="spacingAndGlyphs" font-family="Liberation Sans, sans-serif" font-weight="bold">144.991</text>
<rect x="1455.5" y="554.7" width="55" height="17" rx="2" fill="#000000"/>
<text x="1463.6" y="567.7" font-size="12" fill="#fff" textLength="41.5" lengthAdjust="spacingAndGlyphs" font-family="Liberation Sans, sans-serif" font-weight="bold">141.508</text>
<rect x="1455.5" y="668" width="55.5" height="21" rx="2" fill="#131722"/>
<text x="1463.6" y="681.5" font-size="12" font-weight="bold" fill="#fff" textLength="41.5" lengthAdjust="spacingAndGlyphs" font-family="Liberation Sans, sans-serif">138.255</text>
<rect x="1428" y="692.2" width="26" height="16.5" rx="2" fill="#7e57c2"/>
<text x="1441" y="704.8" font-size="12" font-weight="bold" fill="#fff" text-anchor="middle" font-family="Liberation Sans, sans-serif">RSI</text>
<rect x="1455.5" y="692.2" width="42.5" height="16.5" rx="2" fill="#7e57c2"/>
<text x="1463.5" y="704.8" font-size="12" font-weight="bold" fill="#fff" textLength="29" lengthAdjust="spacingAndGlyphs" font-family="Liberation Sans, sans-serif">77.96</text>
<rect x="1362" y="713" width="92" height="15.7" fill="#fff"/>
<rect x="1454" y="712" width="46" height="34" fill="#fff"/>
<text x="1366.5" y="724.8" font-size="12" fill="#131722" textLength="82.5" lengthAdjust="spacingAndGlyphs" font-family="Liberation Sans, sans-serif">Regular Bearish</text>
<text x="1463.5" y="725" font-size="12" fill="#131722" textLength="29" lengthAdjust="spacingAndGlyphs" font-family="Liberation Sans, sans-serif">66.45</text>
<rect x="1374" y="729" width="80" height="16.5" rx="2" fill="#ffeb3b"/>
<rect x="1455.5" y="729" width="42.5" height="16.5" rx="2" fill="#ffeb3b"/>
<text x="1379" y="741.5" font-size="12" fill="#131722" textLength="70" lengthAdjust="spacingAndGlyphs" font-family="Liberation Sans, sans-serif">RSI-based MA</text>
<text x="1463.5" y="741.5" font-size="12" fill="#131722" textLength="29" lengthAdjust="spacingAndGlyphs" font-family="Liberation Sans, sans-serif">66.29</text>
<rect x="1365" y="746" width="89" height="16.6" fill="#fff"/>
<rect x="1454" y="746" width="46" height="17.5" fill="#fff"/>
<text x="1370.5" y="758.5" font-size="12" fill="#131722" textLength="78.5" lengthAdjust="spacingAndGlyphs" font-family="Liberation Sans, sans-serif">Regular Bullish</text>
<text x="1463.5" y="758.5" font-size="12" fill="#131722" textLength="29" lengthAdjust="spacingAndGlyphs" font-family="Liberation Sans, sans-serif">60.03</text>
<g fill="#131722"><path d="M10 834 H19 V844 H14.5 V838.2 H10 Z"/><circle cx="21.3" cy="836" r="1.9"/><path d="M25 834 H29.4 L25.5 844 H21 Z"/></g>
<text x="33" y="844" font-size="13" fill="#131722" font-family="Liberation Sans, sans-serif">TradingView</text>
<defs><filter id="wsh" x="-10%" y="-10%" width="120%" height="130%"><feGaussianBlur in="SourceAlpha" stdDeviation="0.9"/><feOffset dx="1.6" dy="1.8" result="o"/><feComponentTransfer><feFuncA type="linear" slope="0.55"/></feComponentTransfer><feMerge><feMergeNode/><feMergeNode in="SourceGraphic"/></feMerge></filter></defs>
<path d="M1296.7 765.0 L1306.7 765.0 L1303.2 779.0 L1293.2 779.0 Z M1297.0 784.0 L1302.0 784.0 L1299.7 793.0 L1294.7 793.0 Z M1280.2 819.0 L1286.2 819.0 L1305.7 797.0 L1300.0 796.0 Z M1307.4 766.0 L1347.4 766.0 L1345.5 774.0 L1305.5 774.0 Z M1296.2 795.0 L1340.2 795.0 L1339.0 800.0 L1295.0 800.0 Z M1298.7 813.0 L1335.7 813.0 L1334.2 819.0 L1297.2 819.0 Z M1342.9 768.0 L1348.9 768.0 L1336.2 819.0 L1330.2 819.0 Z M1313.2 783.0 L1318.2 783.0 L1310.7 813.0 L1305.7 813.0 Z M1323.0 784.0 L1327.0 784.0 L1328.7 793.0 L1324.7 793.0 Z M1316.2 803.0 L1320.2 803.0 L1322.2 811.0 L1318.2 811.0 Z M1356.4 766.0 L1403.4 766.0 L1402.0 772.0 L1355.0 772.0 Z M1358.2 771.0 L1364.2 771.0 L1360.2 787.0 L1354.2 787.0 Z M1355.5 782.0 L1399.5 782.0 L1398.2 787.0 L1354.2 787.0 Z M1400.4 766.0 L1406.4 766.0 L1394.0 816.0 L1388.0 816.0 Z M1346.2 803.0 L1388.2 803.0 L1386.7 809.0 L1344.7 809.0 Z M1368.5 814.0 L1395.5 814.0 L1394.0 820.0 L1367.0 820.0 Z M1408.5 770.0 L1414.5 770.0 L1403.0 816.0 L1397.0 816.0 Z M1414.5 770.0 L1428.5 770.0 L1427.2 775.0 L1413.2 775.0 Z M1426.5 770.0 L1432.5 770.0 L1424.0 804.0 L1418.0 804.0 Z M1409.0 792.0 L1423.0 792.0 L1421.7 797.0 L1407.7 797.0 Z M1398.0 816.0 L1404.0 816.0 L1410.5 806.0 L1404.7 805.0 Z M1412.7 805.0 L1418.7 805.0 L1421.0 816.0 L1414.7 817.0 Z M1431.7 777.0 L1457.7 777.0 L1456.2 783.0 L1430.2 783.0 Z M1446.4 766.0 L1452.4 766.0 L1440.0 816.0 L1434.0 816.0 Z M1430.0 812.0 L1436.0 812.0 L1434.7 817.0 L1426.2 819.0 Z M1422.0 808.0 L1439.0 788.0 L1443.2 791.0 L1426.2 811.0 Z M1464.5 770.0 L1469.5 770.0 L1459.2 783.0 L1468.2 783.0 L1453.0 800.0 L1448.2 799.0 L1459.2 787.0 L1453.5 786.0 Z M1445.0 808.0 L1463.0 808.0 L1461.7 813.0 L1443.7 813.0 Z M1463.0 788.0 L1470.0 788.0 L1466.0 796.0 L1459.0 796.0 Z M1486.4 766.0 L1528.4 766.0 L1527.0 772.0 L1485.0 772.0 Z M1521.2 771.0 L1528.2 771.0 L1494.2 795.0 L1484.5 794.0 Z M1496.5 782.0 L1504.2 779.0 L1520.0 796.0 L1511.2 799.0 Z M1475.7 797.0 L1515.7 797.0 L1514.5 802.0 L1474.5 802.0 Z M1492.2 799.0 L1498.2 799.0 L1494.0 816.0 L1488.0 816.0 Z M1463.7 813.0 L1515.7 813.0 L1514.2 819.0 L1462.2 819.0 Z" fill="#fbfbfd" fill-opacity="0.93" filter="url(#wsh)"/>
<g filter="url(#wsh)" fill="#86cdc4" font-family="Liberation Sans, sans-serif" font-weight="bold" font-style="italic" font-size="31">
<text x="1294.1" y="851.5" textLength="20" lengthAdjust="spacingAndGlyphs">z</text>
<text x="1320.5" y="851.5" textLength="20" lengthAdjust="spacingAndGlyphs">z</text>
<text x="1349.1" y="851.5" textLength="16" lengthAdjust="spacingAndGlyphs">r</text>
<text x="1373.1" y="851.5" textLength="14.5" lengthAdjust="spacingAndGlyphs">t</text>
<text x="1393.0" y="851.5" textLength="21" lengthAdjust="spacingAndGlyphs">0</text>
<text x="1427.5" y="851.5" textLength="15" lengthAdjust="spacingAndGlyphs">1</text>
<text x="1451.3" y="851.5" textLength="10" lengthAdjust="spacingAndGlyphs">.</text>
<text x="1471.2" y="851.5" textLength="18" lengthAdjust="spacingAndGlyphs">c</text>
<text x="1496.0" y="851.5" textLength="21.7" lengthAdjust="spacingAndGlyphs">n</text>
</g>
</svg>
</body></html>
